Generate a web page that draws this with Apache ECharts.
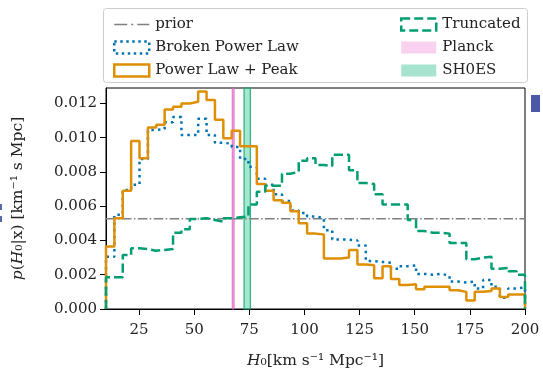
<!DOCTYPE html>
<html><head><meta charset="utf-8">
<script src="https://cdn.jsdelivr.net/npm/echarts@6/dist/echarts.min.js"></script>
<style>html,body{margin:0;padding:0;background:#fff;}#c{width:543px;height:369px;}</style>
</head><body><div id="c"></div>
<script>
// Histogram bins: 50 bins of width 3.8 from H0 = 10 to 200
const binStart = 10;
const binWidth = 3.8;
// Posterior densities, in units of 1e-3 (km^-1 s Mpc)
const powerLawPeak = [3.65,5.3,6.9,9.8,8.8,10.6,10.75,11.65,11.8,12.0,
  12.1,12.7,12.2,11.05,9.97,10.4,9.5,9.5,7.3,6.9,
  6.35,6.2,5.7,5.0,4.4,4.35,2.95,2.95,3.0,3.45,
  2.6,2.55,1.8,2.5,1.75,1.4,1.45,1.15,1.3,1.3,
  1.3,1.1,1.0,0.5,1.0,1.05,1.2,0.7,0.85,0.85];
const brokenPowerLaw = [3.05,5.5,6.95,7.25,8.75,10.45,10.5,10.9,11.2,10.15,
  10.15,11.1,10.15,9.7,9.65,9.45,8.75,8.3,7.6,7.25,
  6.7,6.3,5.75,5.6,5.4,5.3,4.6,4.05,4.05,4.0,
  3.7,2.8,2.75,2.7,2.35,2.5,2.55,2.05,2.0,2.05,
  1.95,1.6,1.55,1.6,1.2,1.7,1.3,0.65,1.2,1.25];
const truncated = [1.85,1.85,3.15,3.55,3.5,3.4,3.45,3.5,4.45,4.65,
  5.25,5.3,5.2,5.1,5.3,5.35,5.4,6.1,6.85,7.2,
  7.2,7.9,8.0,8.65,8.8,8.4,8.35,9.0,9.0,8.1,
  7.35,7.3,6.7,6.1,6.1,6.1,5.2,4.55,4.45,4.45,
  4.4,3.85,3.85,2.9,3.0,3.05,2.35,2.4,2.2,2.0];
const priorRange = [10, 200];
const priorDensity = 1 / 190;
const planckBand = [67.24, 68.08];
const shoesBand = [72.61, 75.45];
const xTicks = [25, 50, 75, 100, 125, 150, 175, 200];
const yTicks = [0, 0.002, 0.004, 0.006, 0.008, 0.010, 0.012];

const FONT = 'DejaVu Serif';
const C_BLUE = '#0173B2', C_ORANGE = '#DE8F05', C_GREEN = '#029E73', C_GRAY = '#7f7f7f';

function stepData(vals) {
  const pts = [[binStart, 0]];
  vals.forEach((v, i) => pts.push([binStart + i * binWidth, v * 1e-3]));
  const end = binStart + vals.length * binWidth;
  pts.push([end, vals[vals.length - 1] * 1e-3]);
  pts.push([end, 0]);
  return pts;
}

const chart = echarts.init(document.getElementById('c'), null, {renderer: 'canvas'});
const priorIcon = 'path://M0,0h13v1.5h-13z M17,0h2v1.5h-2z M23,0h12v1.5h-12z';
const legendText = {fontFamily: FONT, fontSize: 15, color: '#222', lineHeight: 14, padding: [0, 0, 0, 1]};
const nameStyle = {fontFamily: FONT, fontSize: 15.5, color: '#222', rich: {i: {fontStyle: 'italic', fontFamily: FONT, fontSize: 15.5, color: '#222'}}};
chart.setOption({
  animation: false,
  backgroundColor: '#fff',
  grid: {left: 106, right: 18, top: 88, bottom: 60, outerBoundsMode: 'none', containLabel: false,
    show: true, borderColor: '#000', borderWidth: 1, backgroundColor: 'transparent'},
  xAxis: {
    type: 'value', min: priorRange[0], max: priorRange[1],
    axisLine: {show: true, onZero: false, lineStyle: {color: '#000', width: 1}},
    axisTick: {show: true, length: 6, lineStyle: {color: '#000'}, customValues: xTicks},
    axisLabel: {customValues: xTicks, fontFamily: FONT, fontSize: 15, color: '#222', margin: 14},
    splitLine: {show: false},
    name: '{i|H}₀[km s⁻¹ Mpc⁻¹]', nameLocation: 'middle', nameGap: 44,
    nameTextStyle: nameStyle
  },
  yAxis: {
    type: 'value', min: 0, max: 0.0129,
    axisLine: {show: true, lineStyle: {color: '#000', width: 1}},
    axisTick: {show: true, length: 6, lineStyle: {color: '#000'}, customValues: yTicks},
    axisLabel: {customValues: yTicks, formatter: v => v.toFixed(3), fontFamily: FONT, fontSize: 15, color: '#222', margin: 9},
    splitLine: {show: false},
    name: '{i|p}({i|H}₀|x) [km⁻¹ s Mpc]', nameLocation: 'middle', nameGap: 80, nameRotate: 90,
    nameTextStyle: nameStyle
  },
  graphic: [
    {type: 'rect', z: 0, shape: {x: 103.5, y: 8.5, width: 424, height: 74, r: 3}, style: {fill: 'rgba(255,255,255,0.85)', stroke: '#cccccc', lineWidth: 1}},
    {type: 'rect', z: 0, shape: {x: 531, y: 95, width: 9, height: 17}, style: {fill: '#4a58a6'}},
    {type: 'rect', z: 0, shape: {x: 0, y: 204, width: 2, height: 6}, style: {fill: '#5a68b0'}},
    {type: 'rect', z: 0, shape: {x: 0, y: 216, width: 2, height: 6}, style: {fill: '#5a68b0'}}
  ],
  legend: [
    {orient: 'vertical', left: 108, top: 12, z: 10, itemWidth: 35, itemHeight: 12, itemGap: 8, textStyle: legendText, selectedMode: false,
      data: [
        {name: 'prior', icon: priorIcon, itemStyle: {color: C_GRAY, borderWidth: 0}},
        {name: 'Broken Power Law', icon: 'rect', itemStyle: {color: 'rgba(0,0,0,0)', borderColor: C_BLUE, borderWidth: 2.5, borderType: [2.5, 3.5]}},
        {name: 'Power Law + Peak', icon: 'rect', itemStyle: {color: 'rgba(0,0,0,0)', borderColor: C_ORANGE, borderWidth: 2.5}}
      ]},
    {orient: 'vertical', left: 395, top: 12, z: 10, itemWidth: 35, itemHeight: 12, itemGap: 8, textStyle: legendText, selectedMode: false,
      data: [
        {name: 'Truncated', icon: 'rect', itemStyle: {color: 'rgba(0,0,0,0)', borderColor: C_GREEN, borderWidth: 2.5, borderType: [9, 4]}},
        {name: 'Planck', icon: 'rect', itemStyle: {color: '#f8d2ee', borderWidth: 0}},
        {name: 'SH0ES', icon: 'rect', itemStyle: {color: '#a6e4cf', borderWidth: 0}}
      ]}
  ],
  series: [
    {name: 'prior', type: 'line', z: 1, symbol: 'none', data: [[priorRange[0], priorDensity], [priorRange[1], priorDensity]],
      itemStyle: {color: C_GRAY}, lineStyle: {color: C_GRAY, width: 1.5, type: [9.6, 2.4, 1.5, 2.4]}},
    {name: 'Broken Power Law', type: 'line', z: 2, step: 'end', symbol: 'none', data: stepData(brokenPowerLaw),
      itemStyle: {color: C_BLUE}, lineStyle: {color: C_BLUE, width: 2.5, type: [2.5, 4.1]}},
    {name: 'Power Law + Peak', type: 'line', z: 3, step: 'end', symbol: 'none', data: stepData(powerLawPeak),
      itemStyle: {color: C_ORANGE}, lineStyle: {color: C_ORANGE, width: 2.5}},
    {name: 'Truncated', type: 'line', z: 4, step: 'end', symbol: 'none', data: stepData(truncated),
      itemStyle: {color: C_GREEN}, lineStyle: {color: C_GREEN, width: 2.5, type: [9.25, 4]}},
    {name: 'Planck', type: 'line', z: 5, data: [], itemStyle: {color: '#e377c2'},
      markArea: {silent: true, itemStyle: {color: 'rgba(227,119,194,0.55)', borderColor: 'rgba(222,95,200,0.9)', borderWidth: 1},
        data: [[{xAxis: planckBand[0]}, {xAxis: planckBand[1]}]]}},
    {name: 'SH0ES', type: 'line', z: 5, data: [], itemStyle: {color: '#1ec587'},
      markArea: {silent: true, itemStyle: {color: 'rgba(30,197,135,0.4)', borderColor: 'rgba(20,170,115,0.9)', borderWidth: 1.2},
        data: [[{xAxis: shoesBand[0]}, {xAxis: shoesBand[1]}]]}}
  ]
});
</script>
</body></html>
